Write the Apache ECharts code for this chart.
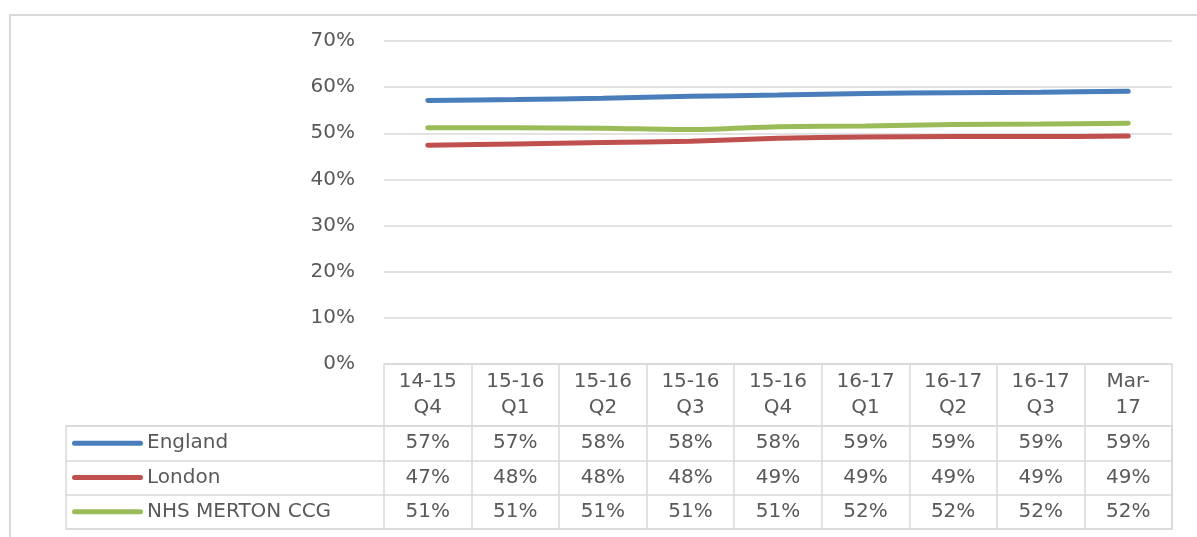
<!DOCTYPE html>
<html>
<head>
<meta charset="utf-8">
<script src="https://cdn.jsdelivr.net/npm/echarts@6/dist/echarts.min.js"></script>
<style>
  html, body { margin: 0; padding: 0; background: #fff; }
  #chart { position: absolute; left: 0; top: 0; width: 1197px; height: 537px; }
  #frame { position: absolute; left: 9px; top: 14px; width: 1200px; height: 540px; border: 2px solid #d9d9d9; box-sizing: border-box; }
</style>
</head>
<body>
<div id="frame"></div>
<div id="chart"></div>
<script>
// periods on the x axis
const categories = ['14-15\nQ4', '15-16\nQ1', '15-16\nQ2', '15-16\nQ3', '15-16\nQ4', '16-17\nQ1', '16-17\nQ2', '16-17\nQ3', 'Mar-\n17']
const seriesNames = ['England', 'London', 'NHS MERTON CCG']
// values in % (table shows them rounded)
const england = [57.1, 57.3, 57.6, 58.0, 58.3, 58.6, 58.8, 58.9, 59.1]
const london = [47.4, 47.7, 48.0, 48.3, 48.9, 49.2, 49.3, 49.3, 49.4]
const merton = [51.2, 51.2, 51.1, 50.8, 51.4, 51.6, 51.9, 52.0, 52.2]
const yTicks = [0, 10, 20, 30, 40, 50, 60, 70]

const COLORS = ['#4a7ebb', '#c0504d', '#9bbb59']
const TEXT = '#595959'
const BORDER = '#d9d9d9'
const FONT = 'DejaVu Sans'
const FS = 20
const allValues = [england, london, merton]

const chart = echarts.init(document.getElementById('chart'))

// one hidden axis per table row, its labels are the rounded values
const rowOffsets = [68, 103, 137]
const rowAxes = allValues.map((vals, i) => ({
  type: 'category',
  gridIndex: 0,
  position: 'bottom',
  offset: rowOffsets[i],
  data: vals.map(v => Math.round(v) + '%'),
  axisLine: { show: false },
  axisTick: { show: false },
  axisLabel: { interval: 0, margin: 0, color: TEXT, fontFamily: FONT, fontSize: FS, lineHeight: 21 }
}))

chart.setOption({
  animation: false,
  backgroundColor: 'transparent',
  grid: [
    { left: 384, right: 25, top: 41, height: 323 },
    { left: 66, right: 25, top: 426, height: 103, show: true, borderColor: BORDER, borderWidth: 1.5 }
  ],
  xAxis: [
    {
      type: 'category',
      gridIndex: 0,
      data: categories,
      boundaryGap: true,
      axisLine: { lineStyle: { color: BORDER, width: 1.5 } },
      axisTick: { show: true, length: 165, lineStyle: { color: BORDER, width: 1.5 } },
      axisLabel: { interval: 0, margin: 5, color: TEXT, fontFamily: FONT, fontSize: FS, lineHeight: 26 }
    },
    ...rowAxes,
    { type: 'value', gridIndex: 1, min: 0, max: 1, show: false }
  ],
  yAxis: [
    {
      type: 'value',
      gridIndex: 0,
      min: yTicks[0],
      max: yTicks[yTicks.length - 1],
      interval: 10,
      axisLine: { show: false },
      axisTick: { show: false },
      splitLine: { lineStyle: { color: BORDER, width: 1.5 } },
      axisLabel: { margin: 29, color: TEXT, fontFamily: FONT, fontSize: FS, formatter: v => v + '%' }
    },
    {
      type: 'category',
      gridIndex: 1,
      inverse: true,
      data: seriesNames,
      axisLine: { show: false },
      axisTick: { show: false },
      splitLine: { show: true, lineStyle: { color: BORDER, width: 1.5 } },
      axisLabel: {
        inside: true,
        margin: 6,
        formatter: (v, i) => `{s${i}| }{t|${v}}`,
        rich: {
          s0: { width: 71, height: 5, backgroundColor: COLORS[0], borderRadius: 3 },
          s1: { width: 71, height: 5, backgroundColor: COLORS[1], borderRadius: 3 },
          s2: { width: 71, height: 5, backgroundColor: COLORS[2], borderRadius: 3 },
          t: { color: TEXT, fontFamily: FONT, fontSize: FS, padding: [0, 0, 0, 4] }
        }
      }
    }
  ],
  series: allValues.map((vals, i) => ({
    name: seriesNames[i],
    type: 'line',
    xAxisIndex: 0,
    yAxisIndex: 0,
    data: vals,
    smooth: 0.3,
    symbol: 'none',
    lineStyle: { color: COLORS[i], width: 5, cap: 'round' },
    itemStyle: { color: COLORS[i] }
  }))
})
</script>
</body>
</html>
